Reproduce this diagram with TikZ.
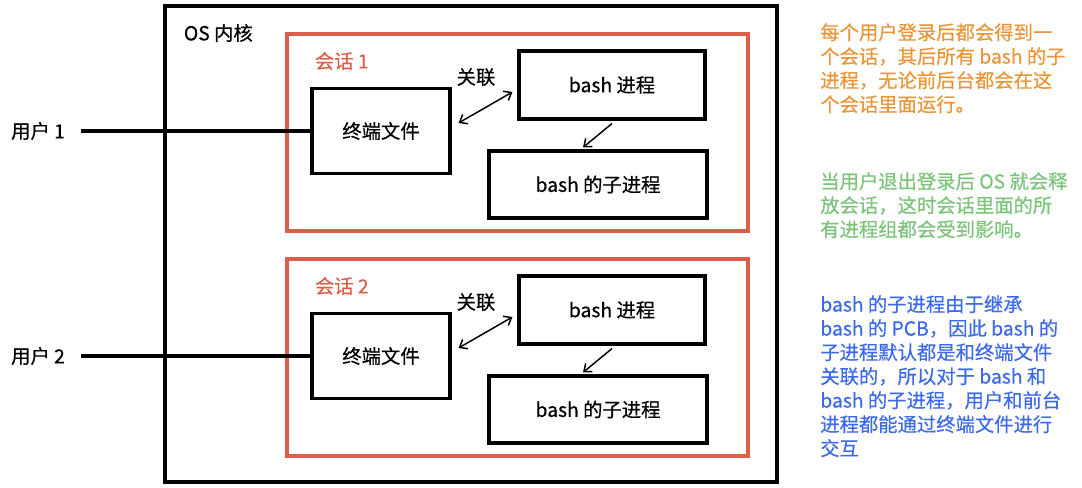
\documentclass[tikz,border=0pt]{standalone}
\usepackage{fontspec}
\usepackage{xcolor}
\usepackage{tikz}
\usetikzlibrary{arrows.meta, positioning}
\newfontfamily\cjkfont[FakeBold=0.5]{Noto Sans CJK SC}
\newcommand{\diagfont}{\cjkfont\fontsize{14.5}{18}\selectfont}
\definecolor{sessionred}{HTML}{D95F4A}
\definecolor{noteorange}{HTML}{E8963A}
\definecolor{notegreen}{HTML}{7CC47A}
\definecolor{noteblue}{HTML}{3D6AE8}
\tikzset{
    kernelbox/.style={
        draw=black,
        line width=2.6pt,
        minimum width=459pt,
        minimum height=357pt,
        inner sep=0pt
    },
    sessionbox/.style={
        draw=sessionred,
        line width=2.3pt,
        minimum width=345.75pt,
        minimum height=147.75pt,
        inner sep=0pt
    },
    procbox/.style={
        draw=black,
        line width=2.3pt,
        inner sep=0pt,
        font=\diagfont
    },
    termfile/.style={procbox, minimum width=103.5pt, minimum height=63.75pt},
    bashproc/.style={procbox, minimum width=139.5pt, minimum height=51pt},
    childproc/.style={procbox, minimum width=163.5pt, minimum height=50.25pt},
    plaintag/.style={font=\diagfont, inner sep=2pt},
    sessiontag/.style={plaintag, text=sessionred, anchor=west},
    notetext/.style={font=\diagfont, align=left, anchor=north west, inner sep=0pt},
    userline/.style={line width=2.3pt, draw=black},
    link/.style={{Straight Barb[length=5pt,width=8pt]}-{Straight Barb[length=5pt,width=8pt]}, line width=1.1pt},
    spawn/.style={-{Straight Barb[length=5pt,width=8pt]}, line width=1.1pt}
}
\begin{document}
\begin{tikzpicture}[x=0.75pt, y=-0.75pt]
    \useasboundingbox (0,0) rectangle (1082,488);

    \node[kernelbox] (kernel) at (471,244) {};
    \node[plaintag, anchor=west] (kerneltag) at (181,33) {OS 内核};

    % session 1
    \node[sessionbox] (sess1) at (517.5,132.5) {};
    \node[sessiontag] (sess1tag) at (312,61) {会话 1};
    \node[termfile] (term1) at (381,131) {终端文件};
    \node[bashproc] (bash1) at (612,85) {bash 进程};
    \node[childproc] (child1) at (598,184.5) {bash 的子进程};
    \node[plaintag] (link1tag) at (476,77) {关联};

    % session 2
    \node[sessionbox] (sess2) at (517.5,357.5) {};
    \node[sessiontag] (sess2tag) at (312,286) {会话 2};
    \node[termfile] (term2) at (381,356) {终端文件};
    \node[bashproc] (bash2) at (612,310) {bash 进程};
    \node[childproc] (child2) at (598,409.5) {bash 的子进程};
    \node[plaintag] (link2tag) at (476,302) {关联};

    % users
    \node[plaintag, inner sep=0pt] (user1) at (38,131) {用户 1};
    \node[plaintag, inner sep=0pt] (user2) at (38,356) {用户 2};
    \draw[userline] ([xshift=12]user1.east) -- (term1.west);
    \draw[userline] ([xshift=12]user2.east) -- (term2.west);

    \draw[link] ([shift={(7,-8)}]term1.east) -- ([shift={(-5,7)}]bash1.west);
    \draw[spawn] ([shift={(0,3)}]bash1.south) -- ([shift={(-15,-2)}]child1.north);
    \draw[link] ([shift={(7,-8)}]term2.east) -- ([shift={(-5,7)}]bash2.west);
    \draw[spawn] ([shift={(0,3)}]bash2.south) -- ([shift={(-15,-2)}]child2.north);

    % notes
    \node[notetext, text=noteorange] (note1) at (820,23) {每个用户登录后都会得到一\\个会话，其后所有 bash 的子\\进程，无论前后台都会在这\\个会话里面运行。};
    \node[notetext, text=notegreen] (note2) at (820,172) {当用户退出登录后 OS 就会释\\放会话，这时会话里面的所\\有进程组都会受到影响。};
    \node[notetext, text=noteblue] (note3) at (820,295) {bash 的子进程由于继承\\bash 的 PCB，因此 bash 的\\子进程默认都是和终端文件\\关联的，所以对于 bash 和\\bash 的子进程，用户和前台\\进程都能通过终端文件进行\\交互};
\end{tikzpicture}
\end{document}
